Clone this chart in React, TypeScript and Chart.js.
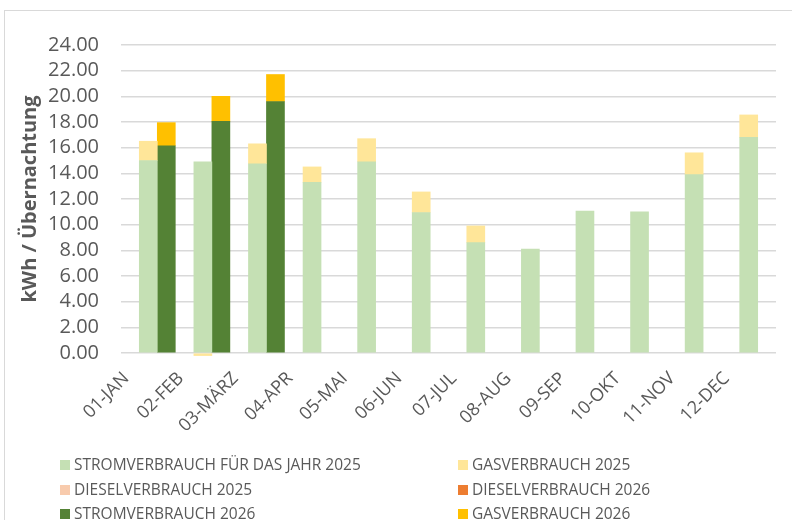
import React, { useEffect, useRef } from "react";
import { Chart, registerables } from "chart.js";

Chart.register(...registerables);

const categories = ["01-JAN", "02-FEB", "03-MÄRZ", "04-APR", "05-MAI", "06-JUN", "07-JUL", "08-AUG", "09-SEP", "10-OKT", "11-NOV", "12-DEC"];
const yTicks = [0, 2, 4, 6, 8, 10, 12, 14, 16, 18, 20, 22, 24];

const strom2025 = [15.0, 14.9, 14.75, 13.3, 14.9, 10.95, 8.6, 8.1, 11.05, 11.0, 13.9, 16.8];
const gas2025 = [1.5, -0.2, 1.55, 1.2, 1.8, 1.6, 1.3, null, null, null, 1.7, 1.75];
const diesel2025 = [null, null, null, null, null, null, null, null, null, null, null, null];
const diesel2026 = [null, null, null, null, null, null, null, null, null, null, null, null];
const strom2026 = [16.15, 18.05, 19.6, null, null, null, null, null, null, null, null, null];
const gas2026 = [1.8, 1.95, 2.1, null, null, null, null, null, null, null, null, null];
// invisible spacer so that 2025 bars sit centred and 2026 bars to their right
const spacer = [0, 0, 0, null, null, null, null, null, null, null, null, null];

const TEXT = "#595959";
const FONT = "'Open Sans', 'DejaVu Sans', sans-serif";

const gridLegend = {
  id: "gridLegend",
  afterDraw(chart: any) {
    const ctx = chart.ctx;
    const items = chart.data.datasets.filter((d: any) => d.label);
    const cols = [60, 458];
    const rows = [465, 490, 514];
    ctx.save();
    ctx.font = `15.5px ${FONT}`;
    ctx.textBaseline = "middle";
    ctx.textAlign = "left";
    items.forEach((d: any, i: number) => {
      const x = cols[i % 2];
      const y = rows[Math.floor(i / 2)];
      ctx.fillStyle = d.backgroundColor;
      ctx.fillRect(x, y - 5, 10, 10);
      ctx.fillStyle = TEXT;
      ctx.fillText(d.label, x + 14, y + 1);
    });
    ctx.restore();
  },
};

export default function App() {
  const ref = useRef<HTMLCanvasElement>(null);
  useEffect(() => {
    if (!ref.current) return;
    const common = { stack: "", clip: false, borderWidth: 0 };
    const chart = new Chart(ref.current, {
      type: "bar",
      data: {
        labels: categories,
        datasets: [
          { ...common, label: "", data: spacer, stack: "a", backgroundColor: "rgba(0,0,0,0)" },
          { ...common, label: "STROMVERBRAUCH FÜR DAS JAHR 2025", data: strom2025, stack: "b", backgroundColor: "#C5E0B4" },
          { ...common, label: "GASVERBRAUCH 2025", data: gas2025, stack: "b", backgroundColor: "#FFE699" },
          { ...common, label: "DIESELVERBRAUCH 2025", data: diesel2025, stack: "b", backgroundColor: "#F8CBAD" },
          { ...common, label: "DIESELVERBRAUCH 2026", data: diesel2026, stack: "c", backgroundColor: "#ED7D31" },
          { ...common, label: "STROMVERBRAUCH 2026", data: strom2026, stack: "c", backgroundColor: "#548235" },
          { ...common, label: "GASVERBRAUCH 2026", data: gas2026, stack: "c", backgroundColor: "#FFC000" },
        ] as any,
      },
      options: {
        responsive: false,
        animation: false,
        datasets: { bar: { skipNull: true, barThickness: 18 } as any },
        layout: { padding: { left: 6, right: 16, top: 45, bottom: 90 } },
        plugins: { legend: { display: false }, tooltip: { enabled: false } },
        scales: {
          x: {
            stacked: true,
            grid: { display: false },
            border: { display: false },
            afterFit: (s: any) => { s.height = 77; },
            ticks: {
              autoSkip: false,
              minRotation: 45,
              maxRotation: 45,
              padding: 7,
              labelOffset: -22,
              color: TEXT,
              font: { size: 18, family: FONT },
            },
          },
          y: {
            stacked: true,
            min: 0,
            max: 24,
            afterFit: (s: any) => { s.width = 115; },
            afterBuildTicks: (s: any) => { s.ticks = yTicks.map((v) => ({ value: v })); },
            grid: { color: "#d9d9d9", lineWidth: 1.5, drawTicks: false },
            border: { display: false },
            ticks: {
              autoSkip: false,
              padding: 22,
              color: TEXT,
              font: { size: 20, family: FONT },
              callback: (v: any) => Number(v).toFixed(2),
            },
            title: {
              display: true,
              text: "kWh / Übernachtung",
              color: TEXT,
              font: { size: 20, weight: "bold", family: FONT },
              padding: { top: 12, bottom: 0 },
            },
          },
        },
      },
      plugins: [gridLegend],
    });
    return () => chart.destroy();
  }, []);

  return (
    <div style={{ position: "fixed", left: 0, top: 0, width: 792, height: 520, overflow: "hidden", background: "#fff" }}>
      <div style={{ position: "absolute", left: 4, top: 10, width: 900, height: 700, borderLeft: "1px solid #d9d9d9", borderTop: "1px solid #d9d9d9" }} />
      <canvas ref={ref} width={792} height={520} style={{ position: "absolute", left: 0, top: 0 }} />
    </div>
  );
}
